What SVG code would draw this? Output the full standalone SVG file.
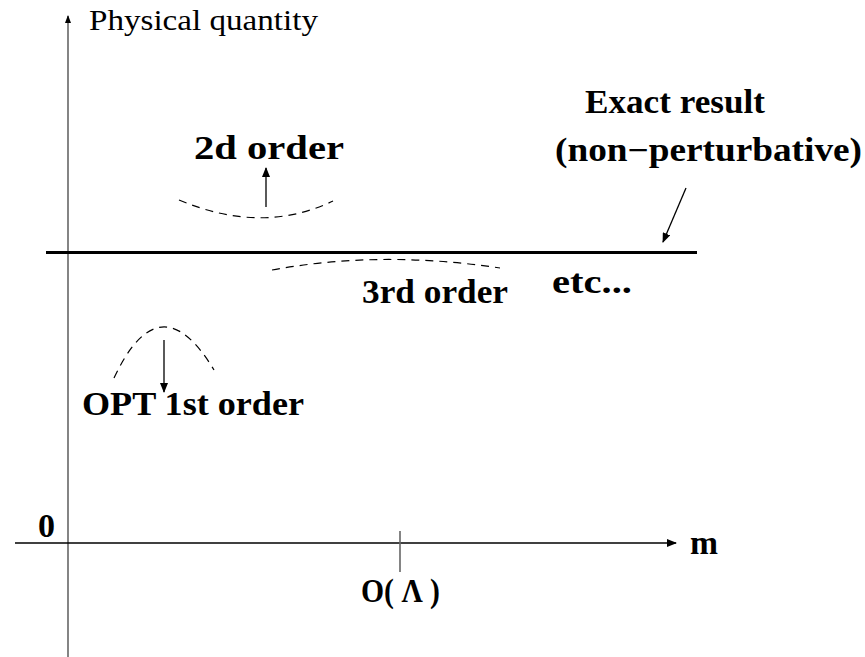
<svg xmlns="http://www.w3.org/2000/svg" width="865" height="657" viewBox="0 0 865 657">
<style>
.b{font-family:'Liberation Serif',serif;font-weight:700;font-size:33px;fill:#000}
.r{font-family:'Liberation Serif',serif;font-size:30px;fill:#000}
.axis{stroke:#666;stroke-width:1.6;fill:none}
.thin{stroke:#000;stroke-width:1.3;fill:none}
.dash{stroke:#000;stroke-width:1.2;fill:none;stroke-dasharray:8 6}
</style>
<defs>
<marker id="ah" markerWidth="10" markerHeight="8" refX="9" refY="4" orient="auto" markerUnits="userSpaceOnUse">
<path d="M0,0 L10,4 L0,8 Z" fill="#000"/>
</marker>
<marker id="ahs" markerWidth="8" markerHeight="6" refX="7" refY="3" orient="auto" markerUnits="userSpaceOnUse">
<path d="M0,0 L8,3 L0,6 Z" fill="#000"/>
</marker>
</defs>
<g id="axes">
<line class="axis" x1="68" y1="657" x2="68" y2="16" marker-end="url(#ahs)"/>
<line class="thin" x1="15" y1="543" x2="676" y2="543" marker-end="url(#ah)"/>
<line class="axis" x1="400" y1="531" x2="400" y2="572"/>
</g>
<g id="exact">
<line x1="46" y1="252.5" x2="697" y2="252.5" stroke="#000" stroke-width="3"/>
<text class="b" x="585" y="113" textLength="180" lengthAdjust="spacingAndGlyphs">Exact result</text>
<text class="b" x="555" y="161" textLength="307" lengthAdjust="spacingAndGlyphs">(non−perturbative)</text>
</g>
<g id="second">
<path class="dash" d="M179,200 Q262,235 333,201"/>
<text class="b" x="194" y="159" textLength="150" lengthAdjust="spacingAndGlyphs">2d order</text>
</g>
<g id="third">
<path class="dash" d="M272,270 Q380,250 500,268"/>
<text class="b" x="362" y="303" textLength="146" lengthAdjust="spacingAndGlyphs">3rd order</text>
</g>
<g id="first">
<path class="dash" d="M114,378 Q160,280 214,370"/>
<text class="b" x="82" y="415" textLength="222" lengthAdjust="spacingAndGlyphs">OPT 1st order</text>
</g>
<g id="labels">
<text class="r" x="89" y="30" textLength="229" lengthAdjust="spacingAndGlyphs">Physical quantity</text>
<text class="b" x="552" y="293" textLength="80" lengthAdjust="spacingAndGlyphs">etc...</text>
<text class="b" x="38" y="537" textLength="17" lengthAdjust="spacingAndGlyphs">0</text>
<text class="b" x="690" y="554" textLength="28" lengthAdjust="spacingAndGlyphs">m</text>
<text class="b" x="361" y="602" textLength="79" lengthAdjust="spacingAndGlyphs">O( Λ )</text>
</g>
<g id="connectors">
<line class="thin" x1="686" y1="188" x2="663" y2="242" marker-end="url(#ah)"/>
<line class="thin" x1="266" y1="207" x2="266" y2="168" marker-end="url(#ah)"/>
<line class="thin" x1="164" y1="340" x2="164" y2="392" marker-end="url(#ah)"/>
</g>
</svg>
